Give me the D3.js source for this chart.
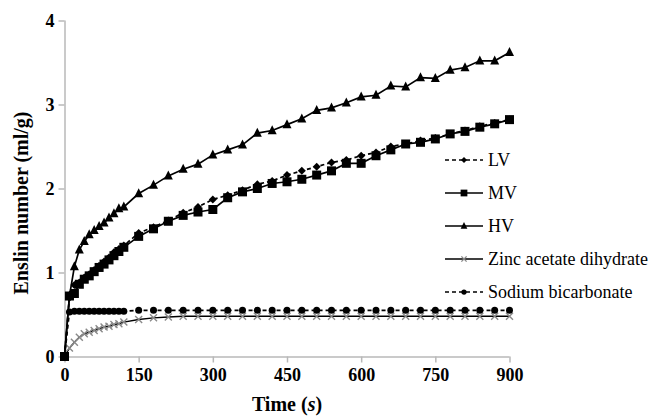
<!DOCTYPE html>
<html><head><meta charset="utf-8">
<script src="https://cdn.jsdelivr.net/npm/d3@7"></script>
<style>body{margin:0;background:#fff}svg{display:block}text{font-family:"Liberation Serif","Times New Roman",serif}</style>
</head><body>
<script>
const times = [0,10,20,30,40,50,60,70,80,90,100,110,120,150,180,210,240,270,300,330,360,390,420,450,480,510,540,570,600,630,660,690,720,750,780,810,840,870,900];
const LV = [0,0.70,0.85,0.88,0.94,0.98,1.03,1.08,1.13,1.18,1.24,1.28,1.32,1.47,1.54,1.62,1.71,1.78,1.87,1.92,1.98,2.05,2.09,2.16,2.21,2.26,2.31,2.34,2.39,2.43,2.50,2.53,2.57,2.60,2.65,2.69,2.74,2.78,2.82];
const MV = [0,0.72,0.75,0.86,0.92,0.96,1.01,1.06,1.10,1.15,1.20,1.25,1.30,1.43,1.52,1.61,1.68,1.72,1.75,1.89,1.96,2.00,2.06,2.08,2.11,2.16,2.21,2.30,2.30,2.39,2.46,2.53,2.55,2.59,2.65,2.68,2.73,2.77,2.82];
const HV = [0,0.72,1.07,1.27,1.37,1.45,1.50,1.55,1.59,1.65,1.70,1.76,1.78,1.94,2.04,2.15,2.23,2.29,2.40,2.46,2.52,2.66,2.69,2.76,2.83,2.93,2.96,3.02,3.09,3.11,3.22,3.21,3.32,3.31,3.41,3.44,3.52,3.52,3.62];
const ZINC = [0,0.10,0.17,0.23,0.27,0.29,0.31,0.33,0.35,0.36,0.38,0.39,0.41,0.44,0.46,0.47,0.48,0.48,0.48,0.48,0.48,0.48,0.48,0.48,0.48,0.48,0.48,0.48,0.48,0.48,0.48,0.48,0.48,0.48,0.48,0.48,0.48,0.48,0.48];
const SODIUM = [0,0.53,0.54,0.54,0.54,0.54,0.54,0.54,0.54,0.54,0.54,0.54,0.54,0.55,0.55,0.55,0.55,0.55,0.55,0.55,0.55,0.55,0.55,0.55,0.55,0.55,0.55,0.55,0.55,0.55,0.55,0.55,0.55,0.55,0.55,0.55,0.55,0.55,0.55];
const seriesNames = ["LV","MV","HV","Zinc acetate dihydrate","Sodium bicarbonate"];
const xTicks = [0,150,300,450,600,750,900];
const yTicks = [0,1,2,3,4];

const W=655,H=416;
const svg=d3.select("body").append("svg").attr("width",W).attr("height",H);
const x=d3.scaleLinear().domain([0,900]).range([64.5,509.5]);
const y=d3.scaleLinear().domain([0,4]).range([356.5,20.5]);

const series=[
 {name:seriesNames[0],vals:LV,dash:"4,3",marker:"diamond",msize:8,fill:"#000"},
 {name:seriesNames[1],vals:MV,dash:null,marker:"square",msize:9,fill:"#000"},
 {name:seriesNames[2],vals:HV,dash:null,marker:"triangle",msize:9,fill:"#000"},
 {name:seriesNames[3],vals:ZINC,dash:null,marker:"cross",msize:7,fill:"#8a8a8a"},
 {name:seriesNames[4],vals:SODIUM,dash:"4,3",marker:"circle",msize:7,fill:"#000"}
];

const xAxis=svg.append("g").attr("transform",`translate(0,${y(0)})`).call(d3.axisBottom(x).tickValues(xTicks).tickSize(6).tickPadding(6));
const yAxis=svg.append("g").attr("transform",`translate(${x(0)},0)`).call(d3.axisLeft(y).tickValues(yTicks).tickSize(6).tickPadding(4).tickFormat(d3.format("d")));
[xAxis,yAxis].forEach(g=>{
  g.select(".domain").attr("stroke","#b8b8b8").attr("stroke-width",1.5);
  g.selectAll(".tick line").attr("stroke","#b8b8b8").attr("stroke-width",1.5);
  g.selectAll(".tick text").attr("fill","#000").style("font-size","18px").style("font-weight","bold").style("font-family","'Liberation Serif',serif");
});
yAxis.select(".domain").attr("d",`M0.5,${y(4)}V${y(0)}`);
xAxis.select(".domain").attr("d",`M${x(0)},0.5H${x(900)}`);

function drawMarker(g,type,cx,cy,s,fill){
  if(type==="diamond"){
    g.append("path").attr("d",`M${cx},${cy-s/2}L${cx+s/2},${cy}L${cx},${cy+s/2}L${cx-s/2},${cy}Z`).attr("fill",fill);
  }else if(type==="square"){
    g.append("rect").attr("x",cx-s/2).attr("y",cy-s/2).attr("width",s).attr("height",s).attr("fill",fill);
  }else if(type==="triangle"){
    g.append("path").attr("d",`M${cx},${cy-s*0.6}L${cx+s/2},${cy+s*0.4}L${cx-s/2},${cy+s*0.4}Z`).attr("fill",fill);
  }else if(type==="circle"){
    g.append("circle").attr("cx",cx).attr("cy",cy).attr("r",s/2).attr("fill",fill);
  }else if(type==="cross"){
    g.append("path").attr("d",`M${cx-s/2},${cy-s/2}L${cx+s/2},${cy+s/2}M${cx-s/2},${cy+s/2}L${cx+s/2},${cy-s/2}`).attr("stroke",fill).attr("stroke-width",1.4);
  }
}

const line=d3.line().x(d=>x(d[0])).y(d=>y(d[1]));
[3,4,2,0,1].forEach(i=>{
  const s=series[i];
  const pts=times.map((t,j)=>[t,s.vals[j]]);
  const g=svg.append("g");
  g.append("path").datum(pts).attr("d",line).attr("fill","none").attr("stroke","#000")
    .attr("stroke-width",i===3?1.4:1.7).attr("stroke-dasharray",s.dash);
  pts.forEach(p=>drawMarker(g,s.marker,x(p[0]),y(p[1]),s.msize,s.fill));
});

const leg=svg.append("g");
series.forEach((s,i)=>{
  const ly=160+i*33;
  const g=leg.append("g");
  g.append("line").attr("x1",445).attr("x2",483).attr("y1",ly).attr("y2",ly).attr("stroke","#000").attr("stroke-width",1.3).attr("stroke-dasharray",s.dash);
  drawMarker(g,s.marker,464,ly,s.msize*0.75,s.fill);
  g.append("text").attr("x",488).attr("y",ly+6).text(s.name).style("font-size","18px").attr("fill","#000");
});

svg.append("text").attr("x",287).attr("y",411).attr("text-anchor","middle").style("font-size","20px").style("font-weight","bold")
  .html('Time (<tspan font-style="italic">s</tspan>)');
svg.append("text").attr("transform","translate(28,203) rotate(-90)").attr("text-anchor","middle").style("font-size","20px").style("font-weight","bold")
  .text("Enslin number (ml/g)");
</script>
</body></html>
